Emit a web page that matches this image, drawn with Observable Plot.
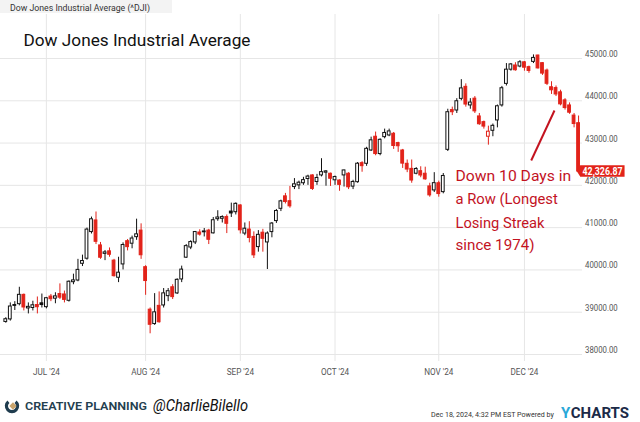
<!DOCTYPE html>
<html><head><meta charset="utf-8">
<script src="https://cdn.jsdelivr.net/npm/d3@7"></script>
<script src="https://cdn.jsdelivr.net/npm/@observablehq/plot@0.6"></script>
<style>
html,body{margin:0;padding:0;background:#fff;}
#wrap{position:relative;width:640px;height:422px;overflow:hidden;background:#fff;font-family:Roboto,sans-serif;}
#wrap > svg{position:absolute;left:0;display:block;}
</style></head><body><div id="wrap"></div>
<script>
// ---------- data ----------
const dates = [
"2024-06-18","2024-06-20","2024-06-21","2024-06-24","2024-06-25","2024-06-26","2024-06-27","2024-06-28",
"2024-07-01","2024-07-02","2024-07-03","2024-07-05","2024-07-08","2024-07-09","2024-07-10","2024-07-11","2024-07-12","2024-07-15","2024-07-16","2024-07-17","2024-07-18","2024-07-19","2024-07-22","2024-07-23","2024-07-24","2024-07-25","2024-07-26","2024-07-29","2024-07-30","2024-07-31",
"2024-08-01","2024-08-02","2024-08-05","2024-08-06","2024-08-07","2024-08-08","2024-08-09","2024-08-12","2024-08-13","2024-08-14","2024-08-15","2024-08-16","2024-08-19","2024-08-20","2024-08-21","2024-08-22","2024-08-23","2024-08-26","2024-08-27","2024-08-28","2024-08-29","2024-08-30",
"2024-09-03","2024-09-04","2024-09-05","2024-09-06","2024-09-09","2024-09-10","2024-09-11","2024-09-12","2024-09-13","2024-09-16","2024-09-17","2024-09-18","2024-09-19","2024-09-20","2024-09-23","2024-09-24","2024-09-25","2024-09-26","2024-09-27","2024-09-30",
"2024-10-01","2024-10-02","2024-10-03","2024-10-04","2024-10-07","2024-10-08","2024-10-09","2024-10-10","2024-10-11","2024-10-14","2024-10-15","2024-10-16","2024-10-17","2024-10-18","2024-10-21","2024-10-22","2024-10-23","2024-10-24","2024-10-25","2024-10-28","2024-10-29","2024-10-30","2024-10-31",
"2024-11-01","2024-11-04","2024-11-05","2024-11-06","2024-11-07","2024-11-08","2024-11-11","2024-11-12","2024-11-13","2024-11-14","2024-11-15","2024-11-18","2024-11-19","2024-11-20","2024-11-21","2024-11-22","2024-11-25","2024-11-26","2024-11-27","2024-11-29",
"2024-12-02","2024-12-03","2024-12-04","2024-12-05","2024-12-06","2024-12-09","2024-12-10","2024-12-11","2024-12-12","2024-12-13","2024-12-16","2024-12-17","2024-12-18"];

const open = [38770,38830,39170,39190,39410,39090,39100,39170,
39210,39120,39370,39320,39430,39420,39270,39710,39750,40145,40265,40895,41170,40580,40380,40440,40220,39815,40130,40680,40620,40775,
40930,40065,39060,38720,39150,39160,39380,39590,39445,39775,40290,40530,40650,40885,40910,40930,40865,41200,41210,41250,41380,41365,
41525,40860,40955,40780,40540,40880,40650,40895,41155,41445,41740,41625,41960,42000,42050,42150,42235,42080,42235,42300,
42275,42120,42115,42235,42275,41970,42075,42525,42510,42825,43150,42740,43140,43180,43220,43000,42825,42510,42390,42275,42335,42275,41975,
41880,42050,41840,42840,43780,43770,44045,44330,43890,44050,43630,43495,43150,43290,43535,43890,44400,44735,44835,44810,
44910,44795,44920,45070,44890,44715,44320,44300,44200,44010,43890,43650,43470];

const high = [38870,39220,39250,39590,39430,39220,39260,39360,
39430,39350,39420,39460,39670,39500,39740,39900,40250,40350,40990,41250,41370,40650,40460,40520,40250,40300,40640,40720,40800,41200,
41090,40100,39100,39440,39480,39560,39560,39650,39790,40090,40600,40690,40910,40950,40980,40960,41240,41400,41280,41300,41580,41585,
41540,41110,41140,40900,40930,40960,40900,41120,41430,41650,41810,41975,42160,42100,42190,42240,42250,42260,42630,42350,
42290,42220,42130,42360,42300,42120,42540,42560,42900,43140,43260,43100,43330,43330,43250,43020,42850,42600,42600,42420,42440,42430,42050,
42300,42100,42280,43800,43850,44050,44500,44400,44050,44100,43700,43520,43400,43450,43900,44340,44880,44880,44900,44950,
44930,44820,45085,45080,44900,44750,44450,44350,44250,44050,43950,43700,43640];

const low = [38740,38790,39040,39150,39030,38960,39030,38960,
39100,39080,39250,39200,39300,39220,39240,39650,39720,40080,40230,40850,40600,40250,40220,40300,39830,39700,40000,40450,40500,40700,
40250,39400,38490,38690,38740,39100,39250,39300,39420,39700,40270,40480,40600,40800,40780,40600,40850,41150,41110,40860,41240,41300,
40850,40810,40640,40270,40420,40420,40010,40760,41100,41380,41560,41460,41900,41900,42000,42000,41880,42000,42200,41980,
41975,42000,41860,41960,41900,41900,42050,42310,42450,42800,42700,42700,43100,43150,42850,42780,42400,42300,42050,42250,42180,42120,41720,
41830,41720,41800,42800,43650,43700,44000,43850,43800,43700,43420,43330,42950,43150,43360,43850,44350,44700,44700,44780,
44700,44650,44880,44750,44600,44360,44150,44100,43880,43780,43680,43360,42290];

const close = [38834,39135,39150,39411,39112,39127,39164,39118,
39170,39331,39308,39375,39344,39291,39721,39753,40001,40211,40954,41198,40665,40288,40415,40358,39853,39935,40589,40539,40743,40842,
40347,39737,38703,38997,38763,39446,39497,39357,39766,40008,40563,40659,40896,40835,40890,40713,41175,41240,41250,41091,41335,41563,
40937,40975,40756,40345,40830,40736,40861,41097,41394,41622,41606,41504,42025,42063,42124,42208,41915,42175,42313,42330,
42156,42197,42011,42353,41954,42080,42512,42454,42864,43065,42740,43077,43239,43276,42931,42925,42514,42374,42114,42387,42233,42142,41763,
42052,41794,42222,43729.9,43729.3,43989,44293,43911,43958,43750,43445,43390,43269,43408,43870,44297,44736,44860,44722,44911,
44782,44705,45014,44766,44643,44402,44248,44149,43915,43828,43718,43450,42326.87];

const yTicks = [38000,39000,40000,41000,42000,43000,44000,45000];
const monthTickDates = ["2024-07-02","2024-08-02","2024-09-03","2024-10-02","2024-11-04","2024-12-02"];
const monthTickLabels = ["JUL '24","AUG '24","SEP '24","OCT '24","NOV '24","DEC '24"];
const headerText = "Dow Jones Industrial Average (^DJI)";
const titleText = "Dow Jones Industrial Average";
const noteLines = ["Down 10 Days in","a Row (Longest","Losing Streak","since 1974)"];
const lastLabel = "42,326.87";
const footerBrand = "CREATIVE PLANNING";
const footerHandle = "@CharlieBilello";
const footerStamp = "Dec 18, 2024, 4:32 PM EST Powered by";
// annotation arrow (data space: trading-day index, index level)
const arrowLine = [{x1: 116.5, y1: 42588, x2: 121.66, y2: 43770}];

// ---------- build ----------
const RED = "#e2231a", BLACK = "#111", NOTE = "#c3131f", GRID = "#e6e6e6";
const data = dates.map((d, i) => ({
  i, date: d, open: open[i], high: high[i], low: low[i], close: close[i],
  up: i === 0 ? close[i] >= open[i] : close[i] >= close[i - 1],
  filled: close[i] < open[i]
}));
const tickIdx = monthTickDates.map(d => dates.indexOf(d));
const hw = 0.31;

const wrap = document.getElementById("wrap");

// header
const header = d3.create("svg").attr("width", 640).attr("height", 14).style("top", "0px");
header.append("rect").attr("x", 0).attr("y", 0).attr("width", 172).attr("height", 13).attr("fill", "#f3f3f3");
header.append("text").attr("x", 10).attr("y", 10.5).attr("font-family", "Roboto, sans-serif")
  .attr("font-size", 9.5).attr("fill", "#333").attr("textLength", 140).attr("lengthAdjust", "spacingAndGlyphs").text(headerText);
wrap.appendChild(header.node());

const chart = Plot.plot({
  width: 640, height: 371,
  marginTop: 0, marginRight: 58, marginBottom: 24, marginLeft: 0,
  style: {background: "transparent", fontFamily: "Roboto, sans-serif", fontSize: "9.5px", color: "#555", overflow: "visible"},
  x: {type: "linear", domain: [-1.175, 127.87], label: null},
  y: {domain: [37834.5, 46040.5], label: null},
  marks: [
    Plot.gridY(yTicks, {stroke: GRID, strokeOpacity: 1}),
    Plot.gridX(tickIdx, {stroke: GRID, strokeOpacity: 1}),
    Plot.axisY(yTicks, {anchor: "right", tickSize: 0, tickPadding: 2.5, label: null, dy: -4.5,
      tickFormat: d => d.toFixed(2)}),
    Plot.axisX(tickIdx, {anchor: "bottom", tickSize: 0, tickPadding: 7, label: null,
      tickFormat: d => monthTickLabels[tickIdx.indexOf(d)]}),
    Plot.ruleX(data, {x: "i", y1: "low", y2: "high", stroke: d => d.up ? BLACK : RED, strokeWidth: 1}),
    Plot.rect(data, {x1: d => d.i - hw, x2: d => d.i + hw, y1: "open", y2: "close",
      fill: d => d.filled ? (d.up ? BLACK : RED) : "white", stroke: d => d.up ? BLACK : RED, strokeWidth: 1}),
    Plot.text([titleText], {frameAnchor: "top-left", dx: 23, dy: 31, lineAnchor: "bottom", textAnchor: "start",
      fontSize: 16.5, fill: "#111"}),
    ...noteLines.map((t, k) => Plot.text([t], {frameAnchor: "top-left", dx: 455, dy: [166.7, 189.7, 213, 235.7][k],
      lineAnchor: "bottom", textAnchor: "start", fontSize: 15, fill: NOTE})),
    Plot.link(arrowLine, {x1: "x1", y1: "y1", x2: "x2", y2: "y2", stroke: NOTE, strokeWidth: 2})
  ]
});
chart.style.top = "14px";
wrap.appendChild(chart);

// last price tag via the chart's own scales
const xs = chart.scale("x"), ys = chart.scale("y");
const lx = xs.apply(data.length - 1), ly = ys.apply(close[close.length - 1]);
const tag = d3.select(chart).append("g");
tag.append("path").attr("fill", RED)
  .attr("d", `M${lx - 1.4},${ly} L${lx + 2.2},${ly - 5.7} H${lx + 46.5} V${ly + 5.7} H${lx + 2.2} Z`);
tag.append("text").attr("x", lx + 24.5).attr("y", ly + 3.6).attr("text-anchor", "middle")
  .attr("font-family", "Roboto, sans-serif").attr("font-weight", "bold").attr("font-size", 10)
  .attr("fill", "white").attr("textLength", 40).attr("lengthAdjust", "spacingAndGlyphs").text(lastLabel);

// condense axis labels / fit handwritten texts
const widths = {};
widths[titleText] = 227;
noteLines.forEach((t, k) => widths[t] = [115.7, 102.3, 89, 79][k]);
d3.select(chart).selectAll("text").each(function() {
  const t = this.textContent;
  if (widths[t]) { this.setAttribute("textLength", widths[t]); this.setAttribute("lengthAdjust", "spacingAndGlyphs"); }
  else if (/^\d{5}\.00$/.test(t) || monthTickLabels.includes(t)) {
    const w = this.getComputedTextLength();
    this.setAttribute("textLength", (w * (/^\d/.test(t) ? 0.82 : 0.86)).toFixed(1));
    this.setAttribute("lengthAdjust", "spacingAndGlyphs");
  }
});

// footer
const footer = d3.create("svg").attr("width", 640).attr("height", 37).style("top", "385px");
wrap.appendChild(footer.node());
const lg = footer.append("g").attr("transform", "translate(12,21)");
lg.append("path").attr("d", d3.arc()({innerRadius: 4, outerRadius: 7.2, startAngle: Math.PI * 0.22, endAngle: Math.PI * 1.78}))
  .attr("fill", "#1f3c4e");
lg.append("rect").attr("x", -2.6).attr("y", -2.6).attr("width", 5.2).attr("height", 5.2)
  .attr("transform", "translate(1,0) rotate(45)").attr("fill", "#c8a36b");
footer.append("text").attr("x", 25).attr("y", 24.5).attr("font-family", "Roboto, sans-serif").attr("font-weight", 600)
  .attr("font-size", 10).attr("fill", "#24404f").attr("textLength", 122).attr("lengthAdjust", "spacingAndGlyphs").text(footerBrand);
footer.append("text").attr("x", 153).attr("y", 26).attr("font-family", "Roboto, sans-serif").attr("font-style", "italic")
  .attr("font-size", 16).attr("fill", "#111").attr("textLength", 95).attr("lengthAdjust", "spacingAndGlyphs").text(footerHandle);
// stamp: font size chosen so its natural width fits 431..555
const st = footer.append("text").attr("x", 431).attr("y", 32).attr("font-family", "Roboto, sans-serif")
  .attr("font-size", 9).attr("fill", "#333").text(footerStamp);
const stW = st.node().getComputedTextLength();
st.attr("font-size", (9 * 123 / stW).toFixed(2));
const y1 = footer.append("text").attr("x", 561).attr("y", 33).attr("font-family", "Roboto, sans-serif").attr("font-weight", "bold")
  .attr("font-size", 15).attr("fill", "#29a8d8").text("Y");
const yW = y1.node().getComputedTextLength();
const c2 = footer.append("text").attr("x", 561 + yW + 0.5).attr("y", 33).attr("font-family", "Roboto, sans-serif").attr("font-weight", "bold")
  .attr("font-size", 15).attr("fill", "#1b2a47").text("CHARTS");
const cW = c2.node().getComputedTextLength();
const target = 635 - (561 + yW + 0.5);
c2.attr("font-size", Math.min(15, 15 * target / cW).toFixed(2));
</script></body></html>
